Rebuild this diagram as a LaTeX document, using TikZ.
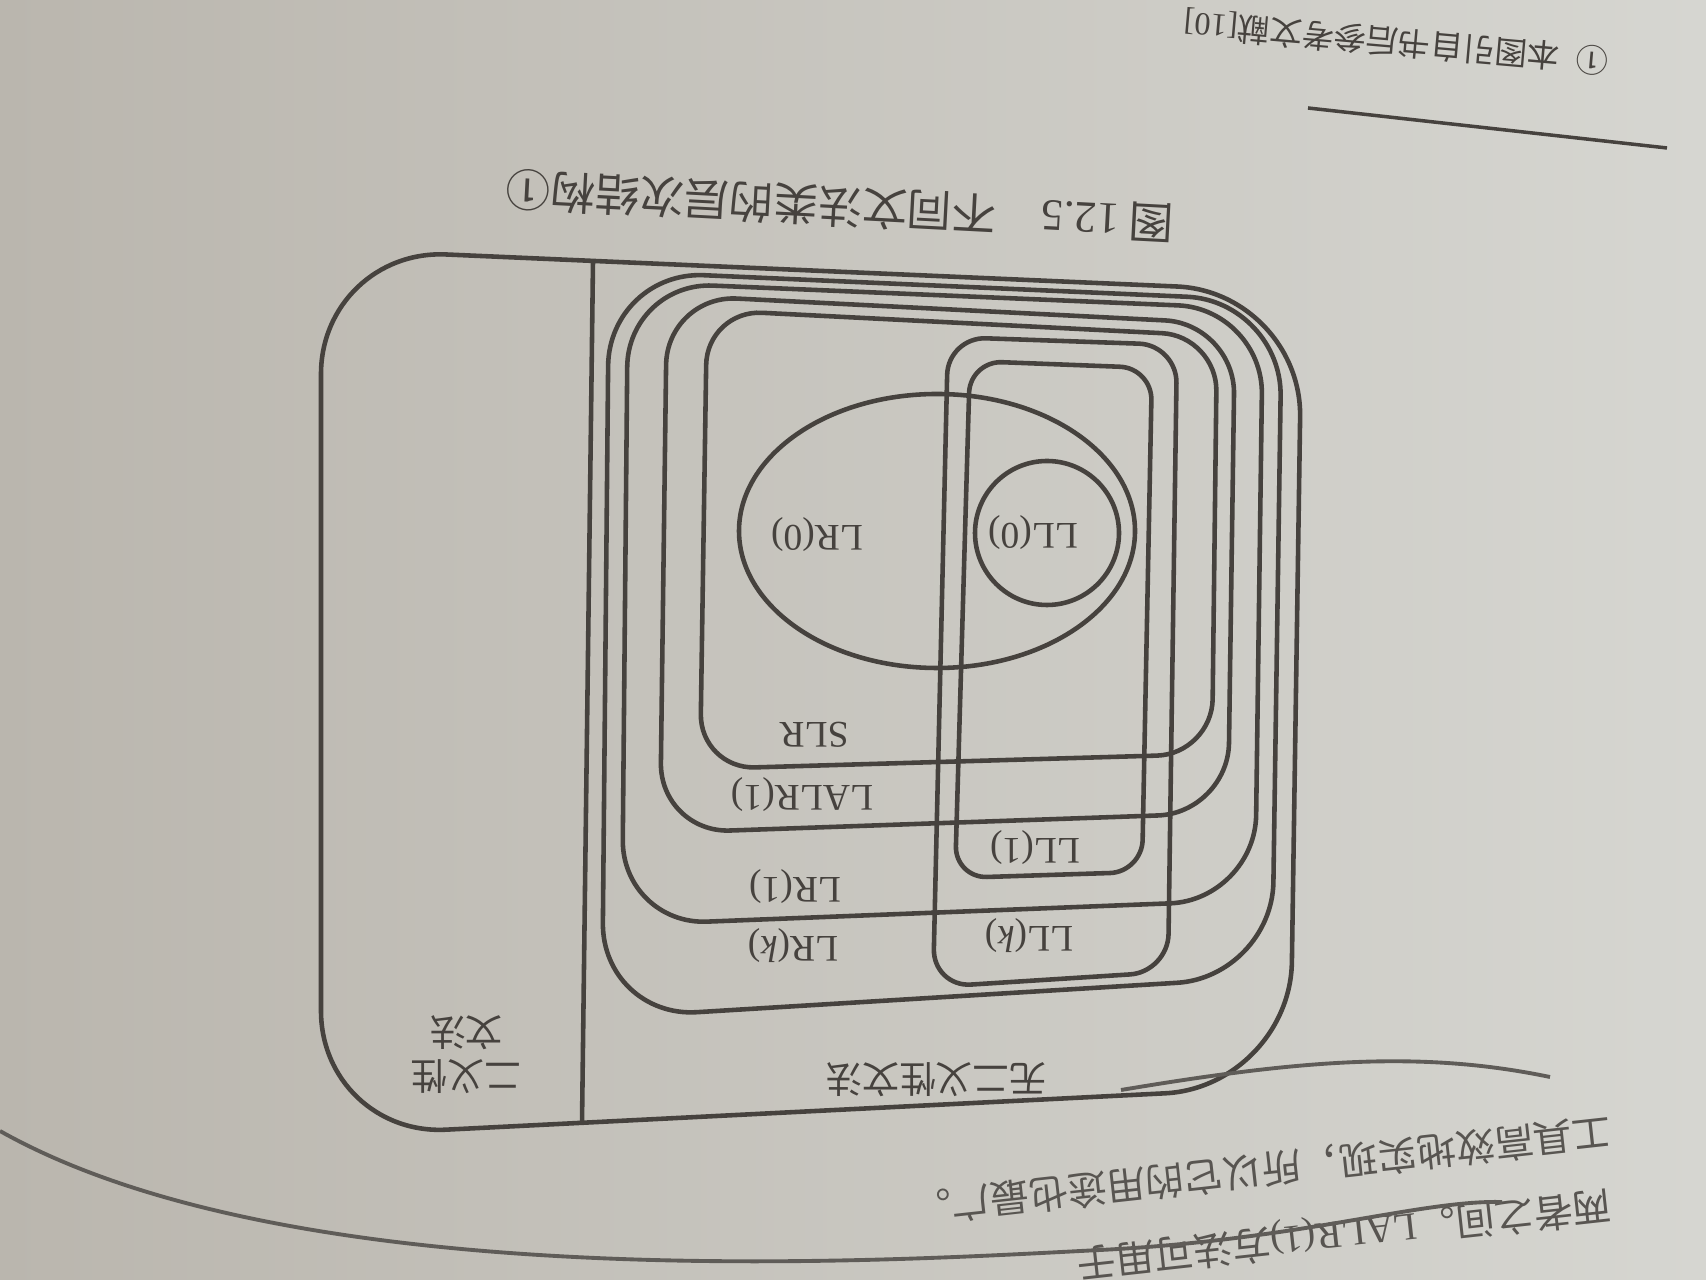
\documentclass[tikz,border=0pt]{standalone}
\usepackage{fontspec}
\setmainfont{Liberation Serif}
\newfontfamily\cjk{Noto Sans CJK SC}
\definecolor{ink}{RGB}{70,66,62}
\definecolor{pen}{RGB}{95,92,88}
\definecolor{paperL}{RGB}{186,182,174}
\definecolor{paperR}{RGB}{214,214,209}
\begin{document}
\begin{tikzpicture}[x=0.01cm,y=-0.01cm,
  ln/.style={draw=ink,line width=1.3pt},
  penln/.style={draw=pen,line width=1.1pt},
  lab/.style={text=ink,rotate=180,inner sep=0pt,font=\fontsize{10.7}{12}\selectfont},
  clab/.style={text=ink,rotate=180,inner sep=0pt,align=center,font=\cjk\fontsize{10.5}{12.5}\selectfont},
  caplab/.style={text=ink,rotate=177,inner sep=0pt,font=\cjk\fontsize{12.7}{14}\selectfont},
  footlab/.style={text=ink,rotate=175,inner sep=0pt,font=\cjk\fontsize{9.2}{11}\selectfont},
  bodylab/.style={text=ink!90,rotate=186.3,inner sep=0pt,anchor=west,font=\cjk\fontsize{11.1}{12}\selectfont}]
\useasboundingbox (0,0) rectangle (1706,1280);
\shade[left color=paperL,right color=paperR] (0,0) rectangle (1706,1280);

% outer frame and divider
\draw[ln,rounded corners=1.25cm] (321,249) -- (1302,292) -- (1290,1087) -- (321,1136) -- cycle;
\coordinate (dt) at (593,261);
\coordinate (db) at (582,1123);
\draw[ln] (dt) -- (db);

% nested LR boxes
\draw[ln,rounded corners=0.95cm] (609,271) -- (1282,301) -- (1272,977) -- (602,1018) -- cycle; % LR(k)
\draw[ln,rounded corners=0.85cm] (628,282) -- (1263,309) -- (1255,900) -- (622,925) -- cycle;  % LR(1)
\draw[ln,rounded corners=0.70cm] (667,295) -- (1235,324) -- (1228,813) -- (660,833) -- cycle;  % LALR(1)
\draw[ln,rounded corners=0.55cm] (707,310) -- (1217,336) -- (1212,754) -- (700,769) -- cycle;  % SLR
% LL boxes
\draw[ln,rounded corners=0.38cm] (948,337) -- (1177,345) -- (1168,972) -- (933,987) -- cycle;  % LL(k)
\draw[ln,rounded corners=0.32cm] (970,361) -- (1152,368) -- (1142,872) -- (955,878) -- cycle;  % LL(1)
% LR(0) and LL(0)
\draw[ln] (937,531) ellipse [x radius=198, y radius=137];
\draw[ln] (1047,533) circle [radius=72];

% labels
\node[lab] (ll0) at (1033,533) {LL(0)};
\node[lab] (lr0) at (817,535) {LR(0)};
\node[lab] (slr) at (814,735) {SLR};
\node[lab] (lalr) at (802,795) {LALR(1)};
\node[lab] (ll1) at (1035,848) {LL(1)};
\node[lab] (lr1) at (795,887) {LR(1)};
\node[lab] (llk) at (1029,936) {LL(\textit{k})};
\node[lab] (lrk) at (793,946) {LR(\textit{k})};
\node[clab] (unamb) at (936,1080) {无二义性文法};
\node[clab] (amb) at (466,1055) {二义性\\文法};

% caption and footnote
\node[caplab] (cap) at (840,207) {图 {\rmfamily 12.5}\quad 不同文法类的层次结构①};
\node[footlab] (foot) at (1396,42) {①\enspace 本图引自书后参考文献{\rmfamily [10]}};
\coordinate (fr1) at (1308,108);
\coordinate (fr2) at (1667,148);
\draw[ink,line width=1pt] (fr1) -- (fr2);

% body text of the page
\node[bodylab] (body1) at (1612,1132) {工具高效地实现，所以它的用途也最广。};
\node[bodylab] (body2) at (1612,1204) {两者之间。{\rmfamily LALR(1)}方法可用于};

% pen strokes
\coordinate (p1a) at (1121,1090);
\coordinate (p1b) at (1550,1077);
\draw[penln] (p1a) .. controls (1300,1060) and (1420,1050) .. (p1b);
\coordinate (p2a) at (0,1131);
\coordinate (p2b) at (1502,1202);
\draw[penln] (p2a) .. controls (300,1300) and (900,1260) .. (1100,1250) .. controls (1300,1240) and (1420,1200) .. (p2b);
\end{tikzpicture}
\end{document}
